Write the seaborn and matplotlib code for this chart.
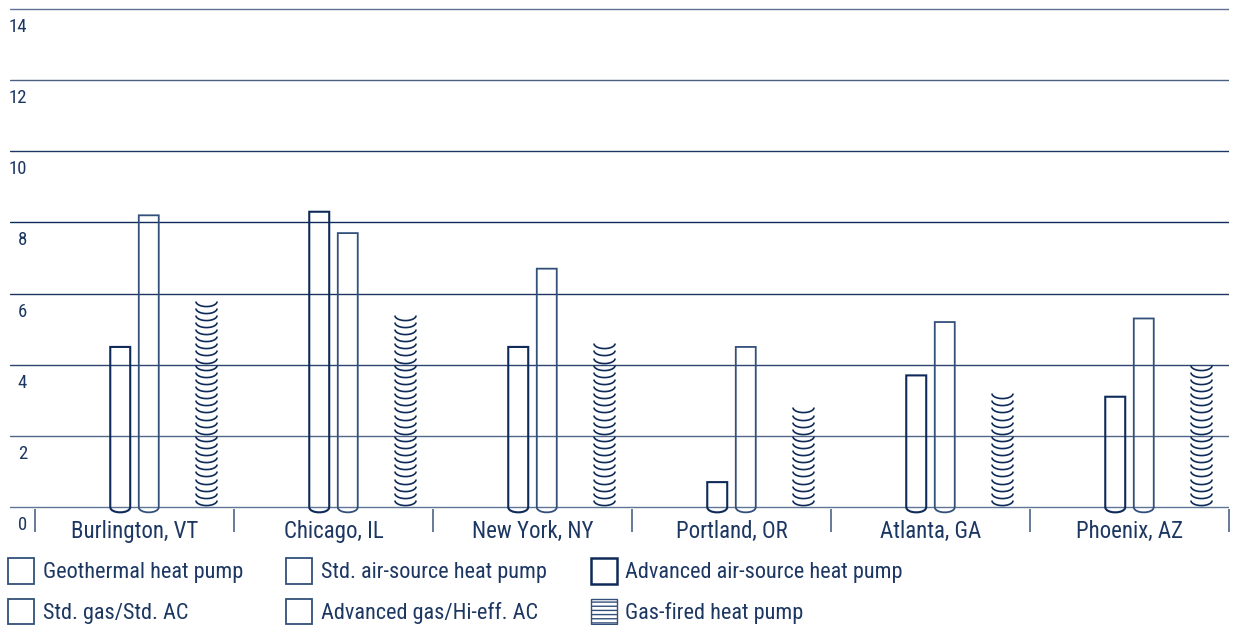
import numpy as np
import pandas as pd
import seaborn as sns
import matplotlib.pyplot as plt
import matplotlib.transforms as mtransforms
from matplotlib.path import Path
from matplotlib.patches import PathPatch, Patch

cities = ["Burlington, VT", "Chicago, IL", "New York, NY",
          "Portland, OR", "Atlanta, GA", "Phoenix, AZ"]
systems = ["Geothermal heat pump", "Std. air-source heat pump",
           "Advanced air-source heat pump", "Std. gas/Std. AC",
           "Advanced gas/Hi-eff. AC", "Gas-fired heat pump"]
advanced_ashp = [4.5, 8.3, 4.5, 0.7, 3.7, 3.1]
std_gas_ac = [8.2, 7.7, 6.7, 4.5, 5.2, 5.3]
gas_fired_hp = [5.8, 5.4, 4.6, 2.8, 3.2, 4.0]
y_ticks = [0, 2, 4, 6, 8, 10, 12, 14]

df = pd.DataFrame({
    "city": cities * 3,
    "system": [systems[2]] * 6 + [systems[3]] * 6 + [systems[5]] * 6,
    "value": advanced_ashp + std_gas_ac + gas_fired_hp,
})

TEXT = "#1d3763"
DARK = "#0e2a58"
MID = "#33507a"
grid_colors = ["#5f7595", "#4f6688", "#2b4670", "#1a3562",
               "#0f2c5a", "#1b3764", "#4a6186", "#5d7292"]

sns.set_style("white")
plt.rcParams["font.family"] = ["Roboto Condensed", "Archivo Narrow", "Barlow Condensed", "DejaVu Sans"]

fig = plt.figure(figsize=(12.39, 6.25), dpi=100)
ax = fig.add_axes([10 / 1239, (625 - 508.8) / 625, 1219 / 1239, (508.8 - 7.2) / 625])

# arc marker for the gas-fired bars: "((((" stacked
t = np.linspace(np.pi, 2 * np.pi, 40)
arc = Path(np.column_stack([np.cos(t), 0.48 * np.sin(t)]))
arc_depth = 0.14
bar_edge = {systems[2]: (DARK, 1.5), systems[3]: (MID, 1.3)}

for name in [systems[2], systems[3], systems[5]]:
    n0 = len(ax.patches)
    sns.barplot(data=df[df.system == name], x="city", y="value", hue="system",
                order=cities, hue_order=systems, dodge=True, width=0.86, gap=0.3,
                errorbar=None, legend=False, fill=False, ax=ax)
    for bar in list(ax.patches[n0:]):
        x, w, h = bar.get_x(), bar.get_width(), bar.get_height()
        bar.remove()
        if name == systems[5]:
            ys = h - np.arange(0, h - arc_depth + 1e-9, 0.2)
            ax.plot(np.full(len(ys), x + w / 2), ys, ls="none", marker=arc,
                    ms=15.2, mfc="none", mec=DARK, mew=1.2, clip_on=False)
        else:
            d = 0.15 * 4 / 3
            verts = [(x, h), (x, 0), (x, -d), (x + w, -d), (x + w, 0), (x + w, h), (x, h)]
            codes = [Path.MOVETO, Path.LINETO, Path.CURVE4, Path.CURVE4,
                     Path.CURVE4, Path.LINETO, Path.CLOSEPOLY]
            col, lw = bar_edge[name]
            ax.add_patch(PathPatch(Path(verts, codes), facecolor="none",
                                   edgecolor=col, lw=lw, clip_on=False))

ax.set_xlim(-0.5 - 25 / 199, 5.5)
ax.set_ylim(-0.05, 14.05)
ax.set_xlabel("")
ax.set_ylabel("")
for s in ax.spines.values():
    s.set_visible(False)

ax.set_xticks(range(len(cities)))
ax.set_xticklabels(cities, fontsize=16.5, color=TEXT)
ax.set_xticks(np.arange(-0.5, len(cities), 1), minor=True)
ax.tick_params(axis="x", which="major", bottom=True, length=0, pad=8)
ax.tick_params(axis="x", which="minor", bottom=True, length=16.5, width=1.2,
               color="#4d6488", direction="out")

ax.set_yticks(y_ticks)
ax.set_yticklabels([str(v) for v in y_ticks])
ax.tick_params(axis="y", length=0, pad=0, labelsize=13.5, labelcolor=TEXT)
shift = mtransforms.ScaledTranslation(17 / 100, -16 / 100, fig.dpi_scale_trans)
for lab in ax.get_yticklabels():
    lab.set_transform(lab.get_transform() + shift)

ax.yaxis.grid(True, lw=1.0)
ax.xaxis.grid(False)
for line, c in zip(ax.get_ygridlines(), grid_colors):
    line.set_color(c)

leg_style = {
    systems[0]: dict(edgecolor=MID, lw=1.3),
    systems[1]: dict(edgecolor=MID, lw=1.3),
    systems[2]: dict(edgecolor=DARK, lw=1.8),
    systems[3]: dict(edgecolor=MID, lw=1.3),
    systems[4]: dict(edgecolor=MID, lw=1.3),
    systems[5]: dict(edgecolor=MID, lw=1.0, hatch="----"),
}
order = [systems[i] for i in [0, 3, 1, 4, 2, 5]]
handles = [Patch(facecolor="white", **leg_style[s]) for s in order]
fig.legend(handles, order, ncol=3, loc="upper left",
           bbox_to_anchor=(8 / 1239, 1 - 558 / 625), frameon=False,
           fontsize=16, handlelength=1.17, handleheight=1.4,
           handletextpad=0.4, columnspacing=1.95, labelspacing=0.67,
           borderpad=0, borderaxespad=0, labelcolor=TEXT)

fig.savefig("out.png", dpi=100)
